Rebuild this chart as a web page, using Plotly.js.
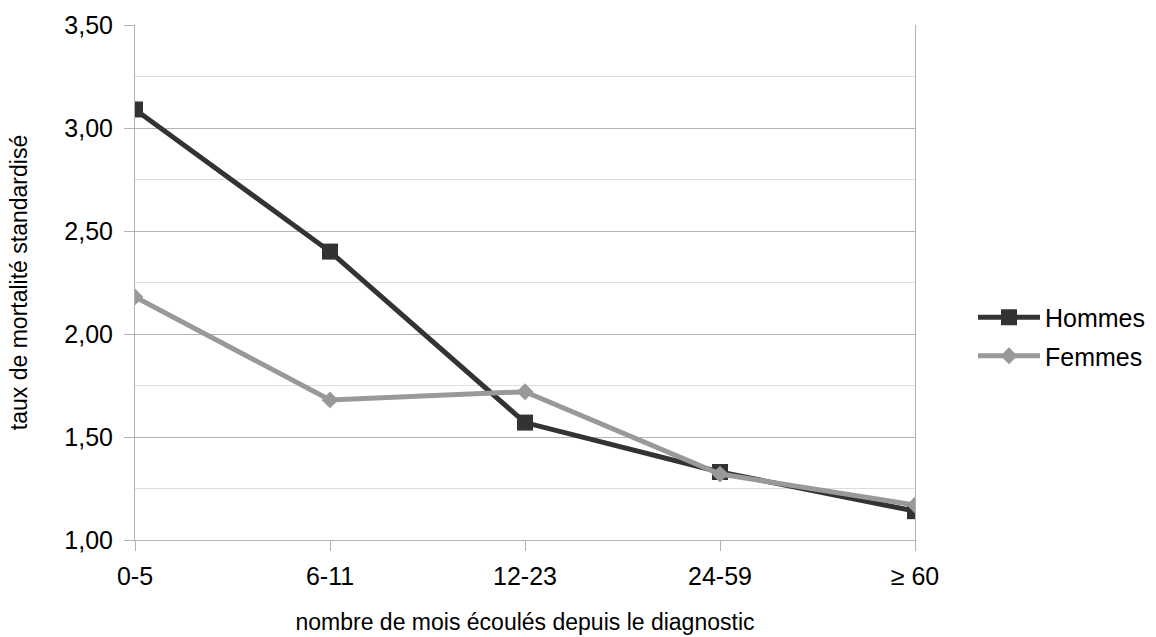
<!DOCTYPE html>
<html><head><meta charset="utf-8">
<script src="https://cdn.plot.ly/plotly-3.0.1.min.js"></script>
<style>html,body{margin:0;padding:0;background:#fff}#c{width:1156px;height:637px}</style>
</head><body><div id="c"></div>
<script>
const categories = ["0-5", "6-11", "12-23", "24-59", "≥ 60"];
const hommes = [3.09, 2.40, 1.57, 1.33, 1.14];
const femmes = [2.18, 1.68, 1.72, 1.32, 1.17];
const yTicks = [1.0, 1.5, 2.0, 2.5, 3.0, 3.5];

const font = "Liberation Sans, Arial, sans-serif";
const traces = [
  {x: categories, y: hommes, name: "Hommes", type: "scatter", mode: "lines+markers", legendgroup: "a",
   line: {color: "#333333", width: 5}, marker: {symbol: "square", size: 16, color: "#333333"}},
  {x: categories, y: femmes, name: "Femmes", type: "scatter", mode: "lines+markers", legendgroup: "b",
   line: {color: "#999999", width: 5}, marker: {symbol: "diamond", size: 13, color: "#999999"}}
];
const layout = {
  width: 1156, height: 637,
  margin: {l: 135, r: 241, t: 25, b: 97, autoexpand: false},
  paper_bgcolor: "#fff", plot_bgcolor: "#fff",
  font: {family: font, size: 25, color: "#000"},
  separators: ", ",
  showlegend: true,
  legend: {x: (973 - 135) / 780, y: (540 - 336.5) / 515, xanchor: "left", yanchor: "middle",
           font: {size: 25, family: font}, traceorder: "grouped", tracegroupgap: 3, itemwidth: 62},
  xaxis: {type: "category", range: [0, 4], showgrid: false, showline: true, linecolor: "#b3b3b3",
          linewidth: 1, ticks: "outside", ticklen: 10, tickcolor: "#b3b3b3", zeroline: false,
          tickfont: {size: 25}, ticklabelstandoff: 4, automargin: false,
          title: {text: "nombre de mois écoulés depuis le diagnostic", font: {size: 23}, standoff: 24}},
  yaxis: {range: [1, 3.5], tickvals: yTicks, tickformat: ".2f", showgrid: true, gridcolor: "#b3b3b3",
          showline: true, linecolor: "#b3b3b3", mirror: true, ticks: "outside", ticklen: 10,
          tickcolor: "#b3b3b3", zeroline: false, tickfont: {size: 25}, ticklabelstandoff: 6, automargin: false,
          minor: {dtick: 0.25, tick0: 1, showgrid: true, gridcolor: "#dddddd", ticks: ""},
          title: {text: "taux de mortalité standardisé", font: {size: 23}, standoff: 30}}
};
Plotly.newPlot("c", traces, layout, {displayModeBar: false, staticPlot: true});
</script></body></html>
